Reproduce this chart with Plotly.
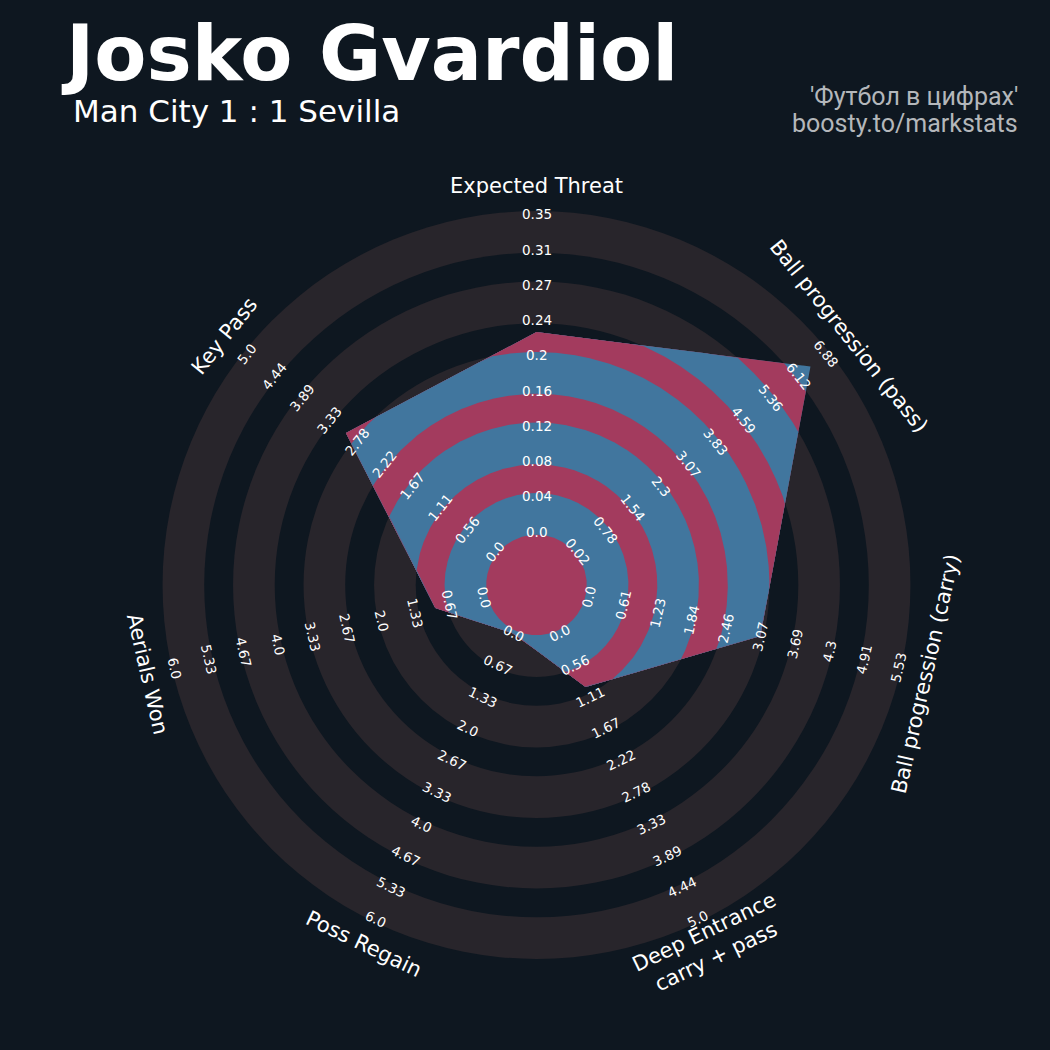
import numpy as np
import plotly.graph_objects as go

# ---------------- data ----------------
params = ["Expected Threat", "Ball progression (pass)", "Ball progression (carry)",
          "Deep Entrance<br>carry + pass", "Poss Regain", "Aerials Won", "Key Pass"]
values = [0.22, 6.44, 3.07, 0.94, 0.0, 0.95, 3.0]
low = [0.0, 0.02, 0.0, 0.0, 0.0, 0.0, 0.0]
high = [0.35, 6.88, 5.53, 5.0, 6.0, 6.0, 5.0]
tick_xt = ["0.0", "0.04", "0.08", "0.12", "0.16", "0.2", "0.24", "0.27", "0.31", "0.35"]
tick_pass = ["0.02", "0.78", "1.54", "2.3", "3.07", "3.83", "4.59", "5.36", "6.12", "6.88"]
tick_carry = ["0.0", "0.61", "1.23", "1.84", "2.46", "3.07", "3.69", "4.3", "4.91", "5.53"]
tick_deep = ["0.0", "0.56", "1.11", "1.67", "2.22", "2.78", "3.33", "3.89", "4.44", "5.0"]
tick_regain = ["0.0", "0.67", "1.33", "2.0", "2.67", "3.33", "4.0", "4.67", "5.33", "6.0"]
tick_aerial = ["0.0", "0.67", "1.33", "2.0", "2.67", "3.33", "4.0", "4.67", "5.33", "6.0"]
tick_keypass = ["0.0", "0.56", "1.11", "1.67", "2.22", "2.78", "3.33", "3.89", "4.44", "5.0"]
tick_labels = [tick_xt, tick_pass, tick_carry, tick_deep, tick_regain, tick_aerial, tick_keypass]

title = "Josko Gvardiol"
subtitle = "Man City 1 : 1 Sevilla"
credit1 = "'Футбол в цифрах'"
credit2 = "boosty.to/markstats"

# ---------------- style ----------------
BG = "#0E1720"
RING = "#28252B"
PINK = "#A33B5E"
BLUE = "#41769E"
CREDIT = "#B4B7BB"
W = H = 1050
CX, CY = 536.5, 585.0      # radar centre in pixels
R_MIN, R_MAX = 53.5, 370.75
RING_PAD = 3.2
LABEL_R = 399.0

n = len(params)
theta = np.arange(n) * 2 * np.pi / n          # clockwise from top
tick_r = np.linspace(R_MIN, R_MAX, 10)

# ring boundaries (odd index = outer edge of a ring)
bounds = np.array([tick_r[i] - RING_PAD if i % 2 == 0 else tick_r[i] + RING_PAD
                   for i in range(10)])

# polygon vertices
vr = np.array([R_MIN + (v - lo) / (hi - lo) * (R_MAX - R_MIN)
               for v, lo, hi in zip(values, low, high)])
px = vr * np.sin(theta)
py = vr * np.cos(theta)

# dense samples along polygon edges
pts_x, pts_y = [], []
t = np.linspace(0, 1, 400, endpoint=False)
for i in range(n):
    j = (i + 1) % n
    pts_x.append(px[i] + t * (px[j] - px[i]))
    pts_y.append(py[i] + t * (py[j] - py[i]))
pts_x = np.concatenate(pts_x)
pts_y = np.concatenate(pts_y)
pts_r = np.hypot(pts_x, pts_y)

fig = go.Figure()

# background rings as disks, painted from outside in
shapes = []
for i in range(9, -1, -1):
    b = bounds[i]
    col = RING if i % 2 == 1 else BG
    shapes.append(dict(type="circle", xref="x", yref="y", x0=-b, x1=b, y0=-b, y1=b,
                       fillcolor=col, line=dict(width=0), layer="below"))

# polygon, split into ring colours, painted from outside in
for i in range(9, -1, -1):
    b = bounds[i]
    col = BLUE if i % 2 == 1 else PINK
    s = np.minimum(1.0, b / pts_r)
    xs = np.append(pts_x * s, pts_x[0] * s[0])
    ys = np.append(pts_y * s, pts_y[0] * s[0])
    fig.add_trace(go.Scatter(x=xs, y=ys, mode="lines", fill="toself", fillcolor=col,
                             line=dict(width=0, color=col), hoverinfo="skip",
                             showlegend=False))

annotations = []


def rot(th_deg):
    if 90 < th_deg < 270:
        return th_deg - 180
    return th_deg if th_deg <= 180 else th_deg - 360


for k in range(n):
    th = theta[k]
    ang = rot(np.degrees(th))
    for lbl, r in zip(tick_labels[k], tick_r):
        annotations.append(dict(x=r * np.sin(th), y=r * np.cos(th), xref="x", yref="y",
                                text=lbl, showarrow=False, textangle=ang,
                                xanchor="center", yanchor="middle",
                                font=dict(family="DejaVu Sans", size=13.5, color="white")))
    annotations.append(dict(x=LABEL_R * np.sin(th), y=LABEL_R * np.cos(th), xref="x", yref="y",
                            text=params[k], showarrow=False, textangle=ang,
                            xanchor="center", yanchor="middle",
                            font=dict(family="DejaVu Sans", size=21, color="white")))

annotations += [
    dict(x=59 / W, y=1 - 54 / H, xref="paper", yref="paper", text=title, showarrow=False,
         xanchor="left", yanchor="middle",
         font=dict(family="DejaVu Sans", size=76, color="white", weight="bold")),
    dict(x=71 / W, y=1 - 111.5 / H, xref="paper", yref="paper", text=subtitle, showarrow=False,
         xanchor="left", yanchor="middle",
         font=dict(family="DejaVu Sans", size=31, color="white")),
    dict(x=1020 / W, y=1 - 96.5 / H, xref="paper", yref="paper", text=credit1, showarrow=False,
         xanchor="right", yanchor="middle",
         font=dict(family="Roboto", size=25, color=CREDIT)),
    dict(x=1020 / W, y=1 - 123.5 / H, xref="paper", yref="paper", text=credit2, showarrow=False,
         xanchor="right", yanchor="middle",
         font=dict(family="Roboto", size=25, color=CREDIT)),
]

fig.update_layout(
    width=W, height=H, margin=dict(l=0, r=0, t=0, b=0),
    paper_bgcolor=BG, plot_bgcolor=BG, showlegend=False,
    xaxis=dict(range=[-CX, W - CX], visible=False, fixedrange=True),
    yaxis=dict(range=[-(H - CY), CY], visible=False, fixedrange=True),
    shapes=shapes, annotations=annotations,
)

fig.write_html("out.html", config={"displayModeBar": False},
               post_script="document.body.style.margin='0';document.body.style.overflow='hidden';")
